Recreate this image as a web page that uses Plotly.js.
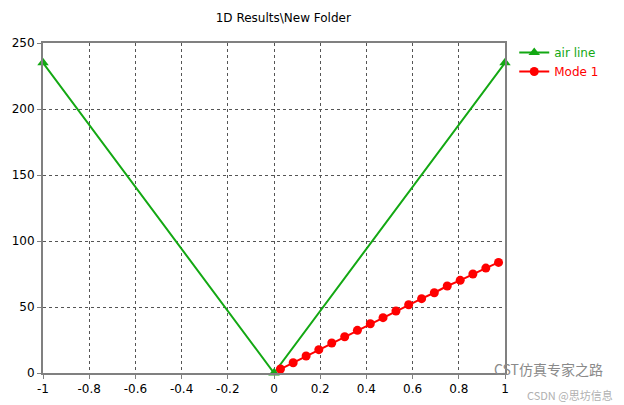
<!DOCTYPE html>
<html><head><meta charset="utf-8">
<script src="https://cdn.plot.ly/plotly-3.0.1.min.js"></script>
<style>body{margin:0;background:#fff}#c{width:624px;height:405px}</style>
</head><body><div id="c"></div>
<script>
const airX = [-1, 0, 1];
const airY = [235, 0, 235];
const modeX = [0.028,0.083,0.139,0.194,0.25,0.306,0.361,0.417,0.472,0.528,0.583,0.639,0.694,0.75,0.806,0.861,0.917,0.972];
const modeY = [3.0,7.8,12.9,17.7,22.7,27.5,32.3,37.3,41.9,47.0,51.7,56.3,60.8,65.9,70.2,75.0,79.5,83.8];
const xTicks = [-1,-0.8,-0.6,-0.4,-0.2,0,0.2,0.4,0.6,0.8,1];
const yTicks = [0,50,100,150,200,250];
const green = '#13a813', red = '#ff0000';
const traces = [
 {x: airX, y: airY, mode: 'lines+markers', name: '<span style="color:'+green+'">air line</span>',
  line: {color: green, width: 2}, marker: {symbol: 'triangle-up', size: 10, color: green}, cliponaxis:false},
 {x: modeX, y: modeY, mode: 'lines+markers', name: '<span style="color:'+red+'">Mode 1</span>',
  line: {color: red, width: 2}, marker: {symbol: 'circle', size: 9, color: red}, cliponaxis:false}
];
const axisCommon = {showline: true, linecolor: '#808080', linewidth: 2, mirror: true,
  showgrid: true, gridcolor: '#555', griddash: 'dot', gridwidth: 1,
  ticks: 'outside', ticklen: 4, tickcolor: '#808080', zeroline: false,
  tickfont: {family: 'DejaVu Sans, Verdana, sans-serif', size: 12, color: '#000'}};
const layout = {
 width: 624, height: 405, paper_bgcolor: '#fff', plot_bgcolor: '#fff',
 margin: {l: 43, r: 119, t: 43, b: 32},
 title: {text: '1D Results\\New Folder', x: 0.454, xanchor: 'center', y: 0.955, yanchor: 'middle',
   font: {family: 'DejaVu Sans, Verdana, sans-serif', size: 12, color: '#000'}},
 xaxis: Object.assign({}, axisCommon, {range: [-1, 1], tickvals: xTicks, ticktext: xTicks.map(String)}),
 yaxis: Object.assign({}, axisCommon, {range: [0, 250], tickvals: yTicks, ticktext: yTicks.map(String)}),
 showlegend: true,
 legend: {x: 1.02, xanchor: 'left', y: 1.015, yanchor: 'top', bgcolor: 'rgba(0,0,0,0)',
   font: {family: 'DejaVu Sans, Verdana, sans-serif', size: 12}, tracegroupgap: 0, itemwidth: 30},
 annotations: [
  {text: 'CST仿真专家之路', xref: 'paper', yref: 'paper', x: 1.095, y: 0.012, xanchor: 'center', yanchor: 'middle', showarrow: false,
   font: {family: 'Noto Sans CJK SC', size: 14, color: '#8a8a8a'}},
  {text: 'CSDN @思坊信息', xref: 'paper', yref: 'paper', x: 1.14, y: -0.067, xanchor: 'center', yanchor: 'middle', showarrow: false,
   font: {family: 'Noto Sans CJK SC', size: 11, color: '#b0b0b0'}}
 ]
};
Plotly.newPlot('c', traces, layout, {displayModeBar: false, staticPlot: true});
</script></body></html>
